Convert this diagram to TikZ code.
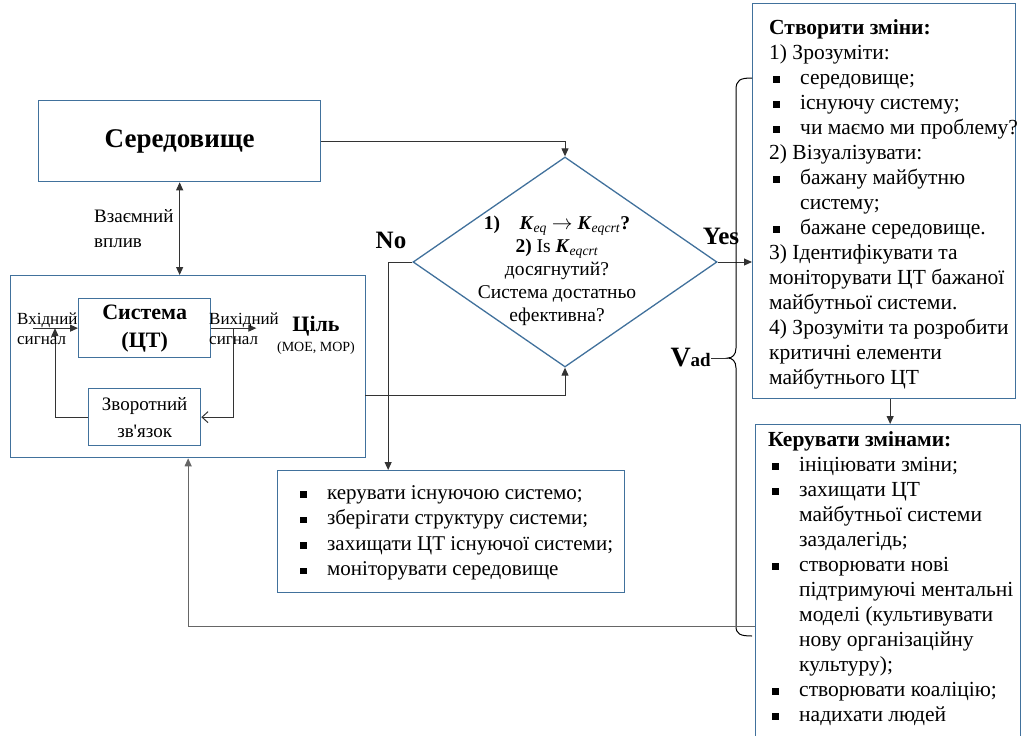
\documentclass[tikz,border=0pt]{standalone}
\usepackage{fontspec}
\setmainfont{Liberation Serif}
\usetikzlibrary{arrows.meta,shapes.geometric,calc}
\definecolor{boxblue}{RGB}{65,113,156}
\newcommand\bul{\rule[1.5pt]{6.5pt}{6.5pt}}
\newcommand\bitem{\hspace*{4pt}\makebox[27pt][l]{\bul}}
\newcommand\bcont{\hspace*{31pt}}
\newcommand\Kb[1]{\textbf{\textit{K}}\textsubscript{\textit{#1}}}

\tikzset{
	box/.style={draw=boxblue, line width=1.3pt, inner sep=0pt},
	conn/.style={draw=black!80, line width=1pt},
	arr/.style={conn, -{Triangle[length=8pt,width=7pt]}},
	biarr/.style={conn, {Triangle[length=8pt,width=7pt]}-{Triangle[length=8pt,width=7pt]}},
	barb/.style={conn, -{Straight Barb[length=6pt,width=11pt]}},
	txt/.style={inner sep=0pt, align=left},
}

\begin{document}
\begin{tikzpicture}[x=1pt, y=-1pt]
			%%%%% START %%%%%
			\useasboundingbox (0,0) rectangle (1023,736);
			
			\node[box, minimum width=282, minimum height=81, anchor=north west, font=\fontsize{27}{30}\selectfont\bfseries] (env) at (38,100) {Середовище};
			\node[box, minimum width=355, minimum height=182, anchor=north west] (sys) at (10,275) {};
			\draw[biarr] (env.south) -- (env.south |- sys.north);
			\node[txt, anchor=west, font=\fontsize{19}{25}\selectfont] (mutual) at (94,229) {Взаємний\\вплив};
			
			% system and feedback
			\node[box, minimum width=132, minimum height=59, anchor=north west, align=center, font=\fontsize{22}{28}\selectfont\bfseries] (ct) at (78,298) {Система\\(ЦТ)};
			\node[box, minimum width=112, minimum height=57, anchor=north west, align=center, font=\fontsize{19}{27}\selectfont] (fb) at (88,388) {Зворотний\\зв\textquotesingle{}язок};
			
			\coordinate (insig) at ($(ct.west)+(-45,0)$);
			\coordinate (outsig) at ($(ct.east)+(45,0)$);
			\draw[arr] (insig) -- (ct.west);
			\draw[arr] (ct.east) -- (outsig);
			\draw[barb] ($(ct.east)+(22,0)$) |- (fb.east);
			\draw[arr] (fb.west) -| ($(insig)+(22,0)$);
			
			\node[txt, anchor=west, font=\fontsize{17}{20}\selectfont] (inlbl) at (17,329) {Вхідний\\сигнал};
			\node[txt, anchor=west, font=\fontsize{17}{20}\selectfont] (outlbl) at (209,329) {Вихідний\\сигнал};
			\node[inner sep=0pt, font=\fontsize{22}{24}\selectfont\bfseries] (goal) at (316,326) {Ціль};
			\node[inner sep=0pt, font=\fontsize{14}{16}\selectfont] (goalm) at (316,348) {(MOE, MOP)};
			
			% decision
			\node[diamond, draw=boxblue, line width=1.3pt, minimum width=304, minimum height=210, inner sep=0pt] (dec) at (565,262) {};
			\node[align=center, inner sep=0pt, font=\fontsize{19.5}{23}\selectfont] (dectxt) at (557,271) {\textbf{1)}\quad\Kb{eq} $\rightarrow$ \Kb{eqcrt}\textbf{?}\\ \textbf{2)} Is \Kb{eqcrt}\\ досягнутий?\\ Система достатньо\\ ефективна?};
			
			\draw[arr] (env.east) -| (dec.north);
			\coordinate (sysout) at (365,395);
			\draw[arr] (sysout) -| (dec.south);
			
			\node[inner sep=0pt, font=\fontsize{25}{25}\selectfont\bfseries] (no) at (391,240) {No};
			\node[inner sep=0pt, font=\fontsize{25}{25}\selectfont\bfseries] (yes) at (721,236) {Yes};
			
			% keep the current system
			\node[box, minimum width=347, minimum height=122, anchor=north west] (keep) at (277,470) {};
			\node[txt, anchor=west, font=\fontsize{21}{25.5}\selectfont] (keeptxt) at (296,533) {\bitem керувати існуючою системо;\\ \bitem зберігати структуру системи;\\ \bitem захищати ЦТ існуючої системи;\\ \bitem моніторувати середовище};
			\draw[arr] (dec.west) -| ([xshift=-63pt]keep.north);
			
			% create the change
			\node[box, minimum width=263, minimum height=395, anchor=north west] (create) at (752,3) {};
			\node[txt, anchor=north west, font=\fontsize{21.5}{25}\selectfont] (createtxt) at (769,19) {\textbf{Створити зміни:}\\ 1) Зрозуміти:\\ \bitem середовище;\\ \bitem існуючу систему;\\ \bitem чи маємо ми проблему?\\ 2) Візуалізувати:\\ \bitem бажану майбутню\\ \bcont систему;\\ \bitem бажане середовище.\\ 3) Ідентифікувати та\\ моніторувати ЦТ бажаної\\ майбутньої системи.\\ 4) Зрозуміти та розробити\\ критичні елементи\\ майбутнього ЦТ};
			\draw[arr] (dec.east) -- (dec.east -| create.west);
			
			% manage the change
			\node[box, minimum width=265, minimum height=330, anchor=north west] (manage) at (755,424) {};
			\node[txt, anchor=north west, font=\fontsize{21.5}{25}\selectfont] (managetxt) at (768,431) {\textbf{Керувати змінами:}\\ \bitem ініціювати зміни;\\ \bitem захищати ЦТ\\ \bcont майбутньої системи\\ \bcont заздалегідь;\\ \bitem створювати нові\\ \bcont підтримуючі ментальні\\ \bcont моделі (культивувати\\ \bcont нову організаційну\\ \bcont культуру);\\ \bitem створювати коаліцію;\\ \bitem надихати людей};
			\coordinate (cdown) at ([xshift=6pt]create.south);
			\draw[arr] (cdown) -- (cdown |- manage.north);
			
			% brace and V_ad
			\draw[line width=1pt] (752,78) .. controls (740,78) and (736,80) .. (736,90) -- (736,348) .. controls (736,355) and (732,358) .. (728,358) .. controls (732,358) and (736,361) .. (736,368) -- (736,626) .. controls (736,634) and (740,636) .. (752,636);
			\coordinate (bracetip) at (728,358);
			\node[inner sep=0pt, anchor=east] (vad) at (711,358) {{\fontsize{28}{28}\selectfont\bfseries V}{\fontsize{19}{19}\selectfont\bfseries ad}};
			\draw[conn] (vad.east) -- (bracetip);
			
			\coordinate (back) at (755,626);
			\draw[arr, draw=black!60] (back) -| (sys.south);
			
			%%%%% END %%%%%
\end{tikzpicture}
\end{document}
